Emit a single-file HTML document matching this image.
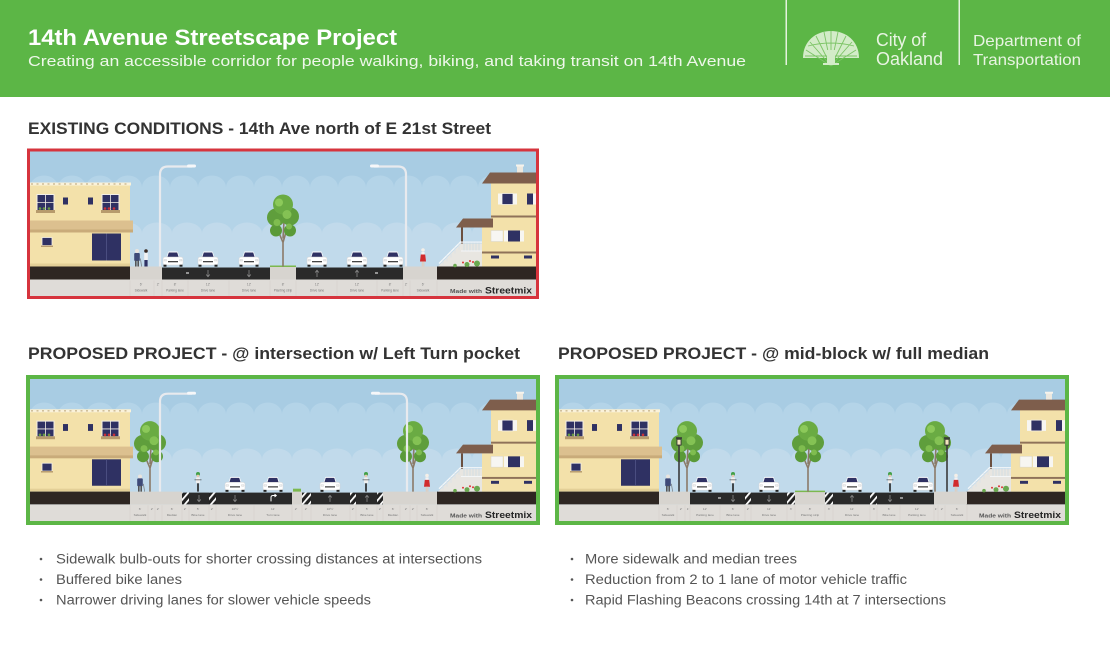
<!DOCTYPE html>
<html><head><meta charset="utf-8">
<style>
html,body{margin:0;padding:0;background:#fff;}
body{width:1110px;height:651px;overflow:hidden;}
svg text{font-family:"Liberation Sans",sans-serif;}
.lb{font-size:3.2px;fill:#7a7a7a;text-anchor:middle;}
</style></head>
<body>
<svg width="1110" height="651" viewBox="0 0 1110 651" xmlns="http://www.w3.org/2000/svg">
<defs>
<pattern id="hp" width="5" height="5" patternUnits="userSpaceOnUse" patternTransform="rotate(40)">
<rect width="5" height="5" fill="#222"/><rect width="1.8" height="5" fill="#fff"/>
</pattern>
<g id="sky">
<rect width="506" height="145" fill="#a8cce3"/>
<path d="M0,36 a14,12 0 0 1 28,0 a14,12 0 0 1 28,0 a14,12 0 0 1 28,0 a14,12 0 0 1 28,0 a14,12 0 0 1 28,0 a14,12 0 0 1 28,0 a14,12 0 0 1 28,0 a14,12 0 0 1 28,0 a14,12 0 0 1 28,0 a14,12 0 0 1 28,0 a14,12 0 0 1 28,0 a14,12 0 0 1 28,0 a14,12 0 0 1 28,0 a14,12 0 0 1 28,0 a14,12 0 0 1 28,0 a14,12 0 0 1 28,0 a14,12 0 0 1 28,0 a14,12 0 0 1 28,0 L506,36 V145 H0Z" fill="#b4d4e8"/>
<path d="M-8,82 a15,11 0 0 1 30,0 a15,11 0 0 1 30,0 a15,11 0 0 1 30,0 a15,11 0 0 1 30,0 a15,11 0 0 1 30,0 a15,11 0 0 1 30,0 a15,11 0 0 1 30,0 a15,11 0 0 1 30,0 a15,11 0 0 1 30,0 a15,11 0 0 1 30,0 a15,11 0 0 1 30,0 a15,11 0 0 1 30,0 a15,11 0 0 1 30,0 a15,11 0 0 1 30,0 a15,11 0 0 1 30,0 a15,11 0 0 1 30,0 a15,11 0 0 1 30,0 a15,11 0 0 1 30,0 V145 H-8Z" fill="#c1daeb"/>
<rect x="0" y="128" width="506" height="17" fill="#dfdcd8"/>
</g>
<g id="lbld">
<rect x="0" y="31" width="100" height="84" fill="#f3e1aa"/>
<rect x="0" y="31" width="101" height="3" fill="#faf2da"/>
<line x1="1" y1="32.5" x2="100" y2="32.5" stroke="#b9a374" stroke-width="1" stroke-dasharray="2 3.5"/>
<rect x="7" y="43" width="17" height="16" fill="#2f3163" stroke="#f4f0e6" stroke-width="1"/>
<path d="M15.5 43v16M7 51h17" stroke="#f4f0e6" stroke-width="0.8"/>
<rect x="6" y="58.5" width="19" height="3" fill="#b79b6c"/>
<circle cx="10" cy="57" r="1.3" fill="#6a9c44"/><circle cx="14" cy="57" r="1.3" fill="#6a9c44"/><circle cx="19" cy="57" r="1.3" fill="#6a9c44"/>
<rect x="72" y="43" width="17" height="16" fill="#2f3163" stroke="#f4f0e6" stroke-width="1"/>
<path d="M80.5 43v16M72 51h17" stroke="#f4f0e6" stroke-width="0.8"/>
<rect x="71" y="58.5" width="19" height="3" fill="#b79b6c"/>
<circle cx="75" cy="57" r="1.3" fill="#c8313a"/><circle cx="79" cy="57" r="1.3" fill="#c8313a"/><circle cx="84" cy="57" r="1.3" fill="#c8313a"/>
<rect x="33" y="46" width="5" height="7" fill="#2f3163"/>
<rect x="58" y="46" width="5" height="7" fill="#2f3163"/>
<rect x="0" y="69" width="103" height="10" fill="#dcc08f"/>
<rect x="0" y="78" width="103" height="3" fill="#c9ab7a"/>
<rect x="12" y="86" width="10" height="8" fill="#2f3163" stroke="#f4f0e6" stroke-width="0.8"/>
<rect x="11" y="94" width="12" height="1.5" fill="#b79b6c"/>
<rect x="62" y="82" width="29" height="27" fill="#2f3163"/>
<line x1="76.5" y1="82" x2="76.5" y2="109" stroke="#4a4d80" stroke-width="1"/>
<rect x="0" y="112" width="100" height="3" fill="#e3cf97"/>
<rect x="0" y="115" width="100" height="13" fill="#2e2622"/>
</g>
<g id="rbld">
<rect x="407" y="115" width="99" height="13" fill="#2e2622"/>
<rect x="452" y="76" width="54" height="39" fill="#f3e1aa"/>
<rect x="461" y="30" width="45" height="46" fill="#f3e1aa"/>
<polygon points="452,32 460,21 506,21 506,32" fill="#7e5e4c"/>
<rect x="487" y="14" width="6" height="7" fill="#ece8df"/>
<rect x="486" y="13" width="8" height="2" fill="#f6f3ec"/>
<rect x="472" y="42" width="11" height="11" fill="#2f3163" stroke="#f4f0e6" stroke-width="0.8"/>
<rect x="468" y="42" width="4" height="11" fill="#f7f6f2"/><rect x="483" y="42" width="4" height="11" fill="#f7f6f2"/>
<rect x="497" y="42" width="6" height="11" fill="#2f3163"/><rect x="503" y="42" width="3" height="11" fill="#f7f6f2"/>
<rect x="461" y="64" width="45" height="2" fill="#8f7259"/>
<polygon points="426,76 433,67 463,67 463,76" fill="#7e5e4c"/>
<rect x="431" y="76" width="2" height="16" fill="#6b4f3f"/>
<rect x="461" y="79" width="12" height="11" fill="#f7f6f2" stroke="#d8d4c8" stroke-width="0.5"/>
<rect x="478" y="79" width="12" height="11" fill="#2f3163"/>
<rect x="474" y="79" width="4" height="11" fill="#f7f6f2"/><rect x="490" y="79" width="4" height="11" fill="#f7f6f2"/>
<rect x="452" y="100" width="54" height="2" fill="#8f7259"/>
<rect x="461" y="104" width="8" height="3" fill="#2f3163"/><rect x="494" y="104" width="8" height="3" fill="#2f3163"/>
<polygon points="408,115 431,92 452,92 452,115" fill="#e8e6e1"/>
<line x1="409" y1="112" x2="431" y2="90" stroke="#f4f7f9" stroke-width="1.3"/>
<path d="M413 108v5M417 104v6M421 100v6M425 96v6M429 92v6" stroke="#d6e2ea" stroke-width="0.7"/>
<rect x="431" y="90" width="21" height="1.2" fill="#f4f7f9"/>
<path d="M434 91v8M437 91v8M440 91v8M443 91v8M446 91v8M449 91v8" stroke="#c9d9e4" stroke-width="0.7"/>
<rect x="431" y="99" width="21" height="1" fill="#f4f7f9"/>
<circle cx="437" cy="113" r="2.5" fill="#6aa84f"/><circle cx="447" cy="112" r="3" fill="#6aa84f"/><circle cx="425" cy="114" r="1.8" fill="#6aa84f"/>
<circle cx="440" cy="109.5" r="1" fill="#d33"/><circle cx="443" cy="110.5" r="1" fill="#d33"/><circle cx="433" cy="111" r="1" fill="#d33"/>
</g>
<g id="car">
<path d="M-6.5,-9 L-4.8,-14.5 Q-4.5,-15 -4,-15 L4,-15 Q4.5,-15 4.8,-14.5 L6.5,-9 Z" fill="#fff"/>
<polygon points="-5.6,-9.5 -4.2,-14 4.2,-14 5.6,-9.5" fill="#2f3163"/>
<rect x="-10" y="-9.5" width="20" height="8" rx="2" fill="#fff" stroke="#d4d4d4" stroke-width="0.5"/>
<rect x="-5" y="-5.5" width="10" height="1.3" fill="#444"/>
<rect x="-9" y="-7" width="2.5" height="1.5" fill="#eee" stroke="#bbb" stroke-width=".3"/>
<rect x="6.5" y="-7" width="2.5" height="1.5" fill="#eee" stroke="#bbb" stroke-width=".3"/>
<rect x="-9.5" y="-1.8" width="3" height="2" fill="#222"/><rect x="6.5" y="-1.8" width="3" height="2" fill="#222"/>
</g>
<g id="tree">
<path d="M0,0 L0,-24 M0,-24 L-5,-36 M0,-24 L4,-38 M0,-28 L1,-46" stroke="#8b7a68" stroke-width="1.6" fill="none"/>
<circle cx="-7" cy="-36" r="6" fill="#5a9a38"/>
<circle cx="7" cy="-36" r="6" fill="#5a9a38"/>
<circle cx="-7" cy="-49" r="9" fill="#5f9e3c"/>
<circle cx="7" cy="-50" r="9" fill="#5f9e3c"/>
<circle cx="0" cy="-62" r="10" fill="#6aab43"/>
<circle cx="-4" cy="-64" r="4" fill="#8cc95a"/>
<circle cx="4" cy="-52" r="4.5" fill="#84c254"/>
<circle cx="-6" cy="-44" r="3.5" fill="#7fbd4f"/>
<circle cx="6" cy="-40" r="3" fill="#7fbd4f"/>
</g>
<g id="lamp">
<path d="M0,0 V-92 Q0,-100 8,-100 H32" stroke="#e8eaee" stroke-width="2.2" fill="none"/>
<rect x="27" y="-102" width="9" height="3" rx="1.5" fill="#f6f7f9"/>
</g>
<g id="olamp">
<rect x="-0.8" y="-48" width="1.6" height="48" fill="#3b3b3b"/>
<rect x="-2.5" y="-54" width="5" height="7" fill="#333"/>
<rect x="-1.6" y="-53" width="3.2" height="5" fill="#f3e6bd"/>
<rect x="-3" y="-55.5" width="6" height="1.5" fill="#333"/>
</g>
<g id="ped1">
<circle cx="0" cy="-15.5" r="2" fill="#e9e4de"/>
<rect x="-2.8" y="-13.5" width="5.6" height="8" rx="1" fill="#3e4a78"/>
<rect x="-2" y="-6" width="1.6" height="6" fill="#555"/><rect x="0.4" y="-6" width="1.6" height="6" fill="#555"/>
<line x1="3.5" y1="-8" x2="4.5" y2="0" stroke="#666" stroke-width="0.6"/>
</g>
<g id="ped2">
<circle cx="0" cy="-16.5" r="1.8" fill="#f5efe8"/>
<rect x="-1.6" y="-14.5" width="3.2" height="3" fill="#f3f3f3"/>
<polygon points="-2.2,-12 2.2,-12 3,-5 -3,-5" fill="#d12b2e"/>
<rect x="-1.2" y="-5" width="0.9" height="5" fill="#e8c9b0"/><rect x="0.4" y="-5" width="0.9" height="5" fill="#e8c9b0"/>
</g>
<g id="bike">
<circle cx="0" cy="-18" r="2" fill="#43a047"/>
<circle cx="0" cy="-16" r="1.3" fill="#e8c9b0"/>
<rect x="-2" y="-14.5" width="4" height="6" rx="1" fill="#f0f0f0"/>
<line x1="-3.5" y1="-12" x2="3.5" y2="-12" stroke="#333" stroke-width="0.6"/>
<rect x="-0.8" y="-8.5" width="1.6" height="8.5" fill="#222"/>
</g>
<g id="ad"><path d="M0,-3.5 V3 M-1.8,1 L0,3.2 L1.8,1" stroke="#8a8a8a" stroke-width="0.8" fill="none"/></g>
<g id="au"><path d="M0,3.5 V-3 M-1.8,-1 L0,-3.2 L1.8,-1" stroke="#8a8a8a" stroke-width="0.8" fill="none"/></g>
<g id="mark">
<text x="420" y="141.5" font-size="5.8" font-weight="bold" fill="#555" textLength="32" lengthAdjust="spacingAndGlyphs">Made with</text>
<text x="455" y="142" font-size="9.5" font-weight="bold" fill="#262626" textLength="47" lengthAdjust="spacingAndGlyphs">Streetmix</text>
</g>
</defs>

<!-- Header -->
<rect x="0" y="0" width="1110" height="97" fill="#5cb646"/>
<text x="28" y="45" font-size="22" font-weight="bold" fill="#fff" textLength="369" lengthAdjust="spacingAndGlyphs">14th Avenue Streetscape Project</text>
<text x="28" y="66" font-size="15" fill="#eef7ea" textLength="718" lengthAdjust="spacingAndGlyphs">Creating an accessible corridor for people walking, biking, and taking transit on 14th Avenue</text>
<rect x="785.5" y="0" width="1.5" height="65" fill="#e4f2dd"/>
<rect x="958.5" y="0" width="1.5" height="65" fill="#e4f2dd"/>
<path d="M803,58 C803,41 816,31 831,31 C846,31 859,41 859,58 Z" fill="#d3ecc8"/>
<path d="M831,66 L806,50 M831,66 L810,42 M831,66 L816,36 M831,66 L824,32 M831,66 L831,31 M831,66 L838,32 M831,66 L846,36 M831,66 L852,42 M831,66 L856,50 M805,56 H857 M808,46 Q831,40 854,46" stroke="#7cc466" stroke-width="0.9" fill="none"/>
<rect x="827" y="50" width="8" height="15" fill="#d3ecc8"/>
<rect x="823" y="63" width="16" height="2" fill="#d3ecc8"/>
<text x="876" y="46" font-size="18" fill="#e8f4e2" textLength="50" lengthAdjust="spacingAndGlyphs">City of</text>
<text x="876" y="65" font-size="18" fill="#e8f4e2" textLength="67" lengthAdjust="spacingAndGlyphs">Oakland</text>
<text x="973" y="46" font-size="16" fill="#e8f4e2" textLength="108" lengthAdjust="spacingAndGlyphs">Department of</text>
<text x="973" y="65" font-size="16" fill="#e8f4e2" textLength="108" lengthAdjust="spacingAndGlyphs">Transportation</text>

<!-- Headings -->
<text x="28" y="134" font-size="16.5" font-weight="bold" fill="#333" textLength="463" lengthAdjust="spacingAndGlyphs">EXISTING CONDITIONS - 14th Ave north of E 21st Street</text>
<text x="28" y="359" font-size="16.5" font-weight="bold" fill="#333" textLength="492" lengthAdjust="spacingAndGlyphs">PROPOSED PROJECT - @ intersection w/ Left Turn pocket</text>
<text x="558" y="359" font-size="16.5" font-weight="bold" fill="#333" textLength="431" lengthAdjust="spacingAndGlyphs">PROPOSED PROJECT - @ mid-block w/ full median</text>

<!-- Existing -->
<svg x="30" y="151.5" width="506" height="145" viewBox="0 0 506 145" preserveAspectRatio="none">
<use href="#sky"/>
<use href="#lbld"/>
<use href="#rbld"/>
<rect x="100" y="115" width="32" height="13" fill="#d7d4cf"/>
<rect x="132" y="116" width="108" height="12" fill="#2a2a2a"/>
<rect x="240" y="115" width="26" height="13" fill="#d7d4cf"/>
<rect x="240" y="114" width="26" height="1.5" fill="#7cb84e"/>
<rect x="266" y="116" width="107" height="12" fill="#2a2a2a"/>
<rect x="373" y="115" width="34" height="13" fill="#d7d4cf"/>
<rect x="156" y="121" width="3" height="1" fill="#fff"/><rect x="345" y="121" width="3" height="1" fill="#fff"/>
<use href="#ad" x="178" y="122"/><use href="#ad" x="219" y="122"/>
<use href="#au" x="287" y="122"/><use href="#au" x="327" y="122"/>
<use href="#tree" x="253" y="115"/>
<use href="#lamp" x="130" y="115"/>
<use href="#lamp" transform="translate(376,115) scale(-1,1)"/>
<use href="#car" x="143" y="115"/><use href="#car" x="178" y="115"/><use href="#car" x="219" y="115"/>
<use href="#car" x="287" y="115"/><use href="#car" x="327" y="115"/><use href="#car" x="363" y="115"/>
<use href="#ped1" x="107" y="115"/>
<g transform="translate(116,115)"><circle cx="0" cy="-15.5" r="1.8" fill="#3a2a22"/><rect x="-1.8" y="-13.5" width="3.6" height="7" fill="#f2f2f2"/><rect x="-1.6" y="-6.5" width="3.2" height="6.5" fill="#2f3163"/></g>
<use href="#ped2" x="393" y="115"/>
<path d="M100 129v16M124 129v16M132 129v16M158 129v16M199 129v16M240 129v16M266 129v16M307 129v16M347 129v16M373 129v16M380 129v16M407 129v16" stroke="#cdc9c4" stroke-width="0.4"/>
<text class="lb" x="111" y="134">6'</text><text class="lb" x="111" y="140">Sidewalk</text>
<text class="lb" x="128" y="134">2'</text>
<text class="lb" x="145" y="134">8'</text><text class="lb" x="145" y="140">Parking lane</text>
<text class="lb" x="178" y="134">12'</text><text class="lb" x="178" y="140">Drive lane</text>
<text class="lb" x="219" y="134">12'</text><text class="lb" x="219" y="140">Drive lane</text>
<text class="lb" x="253" y="134">8'</text><text class="lb" x="253" y="140">Planting strip</text>
<text class="lb" x="287" y="134">12'</text><text class="lb" x="287" y="140">Drive lane</text>
<text class="lb" x="327" y="134">12'</text><text class="lb" x="327" y="140">Drive lane</text>
<text class="lb" x="360" y="134">8'</text><text class="lb" x="360" y="140">Parking lane</text>
<text class="lb" x="376" y="134">2'</text>
<text class="lb" x="393" y="134">6'</text><text class="lb" x="393" y="140">Sidewalk</text>
<use href="#mark"/>
</svg>
<rect x="28.5" y="150" width="509" height="147.5" fill="none" stroke="#d6343d" stroke-width="3"/>

<!-- Proposed left -->
<svg x="30" y="379" width="506" height="142" viewBox="0 0 506 145" preserveAspectRatio="none">
<use href="#sky"/>
<use href="#lbld"/>
<use href="#rbld"/>
<rect x="100" y="115" width="52" height="13" fill="#d7d4cf"/>
<rect x="152" y="116" width="7" height="12" fill="url(#hp)"/>
<rect x="159" y="116" width="20" height="12" fill="#2a2a2a"/>
<rect x="179" y="116" width="7" height="12" fill="url(#hp)"/>
<rect x="186" y="116" width="76" height="12" fill="#2a2a2a"/>
<rect x="262" y="115" width="10" height="13" fill="#d7d4cf"/>
<rect x="263" y="112" width="8" height="3" fill="#7cb84e"/>
<rect x="272" y="116" width="9" height="12" fill="url(#hp)"/>
<rect x="281" y="116" width="39" height="12" fill="#2a2a2a"/>
<rect x="320" y="116" width="6" height="12" fill="url(#hp)"/>
<rect x="326" y="116" width="21" height="12" fill="#2a2a2a"/>
<rect x="347" y="116" width="6" height="12" fill="url(#hp)"/>
<rect x="353" y="115" width="54" height="13" fill="#d7d4cf"/>
<use href="#ad" x="169" y="122"/><use href="#ad" x="205" y="122"/>
<path d="M241,125 V121 Q241,119 243,119 H246 M244.5,117.5 L246.3,119 L244.5,120.5" stroke="#fff" stroke-width="1" fill="none"/>
<use href="#au" x="300" y="122"/><use href="#au" x="337" y="122"/>
<use href="#tree" x="120" y="115"/>
<use href="#tree" x="383" y="115"/>
<use href="#lamp" x="130" y="115"/>
<use href="#lamp" transform="translate(377,115) scale(-1,1)"/>
<use href="#car" x="205" y="115"/><use href="#car" x="243" y="115"/><use href="#car" x="300" y="115"/>
<use href="#bike" x="168" y="115"/><use href="#bike" x="336" y="115"/>
<use href="#ped1" x="110" y="115"/>
<use href="#ped2" x="397" y="115"/>
<path d="M100 129v16M118 129v16M125 129v16M132 129v16M152 129v16M159 129v16M179 129v16M186 129v16M224 129v16M262 129v16M272 129v16M281 129v16M320 129v16M326 129v16M347 129v16M353 129v16M370 129v16M380 129v16M387 129v16M407 129v16" stroke="#cdc9c4" stroke-width="0.4"/>
<text class="lb" x="110" y="134">6'</text><text class="lb" x="110" y="140">Sidewalk</text>
<text class="lb" x="122" y="134">2'</text><text class="lb" x="128" y="134">2'</text>
<text class="lb" x="142" y="134">6'</text><text class="lb" x="142" y="140">Median</text>
<text class="lb" x="155" y="134">2'</text>
<text class="lb" x="168" y="134">5'</text><text class="lb" x="168" y="140">Bike lane</text>
<text class="lb" x="182" y="134">2'</text>
<text class="lb" x="205" y="134">10½'</text><text class="lb" x="205" y="140">Drive lane</text>
<text class="lb" x="243" y="134">11'</text><text class="lb" x="243" y="140">Turn lane</text>
<text class="lb" x="266" y="134">2'</text><text class="lb" x="276" y="134">2'</text>
<text class="lb" x="300" y="134">10½'</text><text class="lb" x="300" y="140">Drive lane</text>
<text class="lb" x="323" y="134">2'</text>
<text class="lb" x="337" y="134">5'</text><text class="lb" x="337" y="140">Bike lane</text>
<text class="lb" x="350" y="134">2'</text>
<text class="lb" x="363" y="134">6'</text><text class="lb" x="363" y="140">Median</text>
<text class="lb" x="376" y="134">2'</text><text class="lb" x="383" y="134">2'</text>
<text class="lb" x="397" y="134">6'</text><text class="lb" x="397" y="140">Sidewalk</text>
<use href="#mark"/>
</svg>
<rect x="28" y="377" width="510" height="146" fill="none" stroke="#5cb646" stroke-width="4"/>

<!-- Proposed right -->
<svg x="559" y="379" width="506" height="142" viewBox="0 0 506 145" preserveAspectRatio="none">
<use href="#sky"/>
<use href="#lbld"/>
<use href="#rbld"/>
<rect x="100" y="115" width="31" height="13" fill="#d7d4cf"/>
<rect x="131" y="116" width="55" height="12" fill="#2a2a2a"/>
<rect x="186" y="116" width="6" height="12" fill="url(#hp)"/>
<rect x="192" y="116" width="36" height="12" fill="#2a2a2a"/>
<rect x="228" y="116" width="8" height="12" fill="url(#hp)"/>
<rect x="236" y="115" width="30" height="13" fill="#d7d4cf"/>
<rect x="236" y="114" width="30" height="1.5" fill="#7cb84e"/>
<rect x="266" y="116" width="8" height="12" fill="url(#hp)"/>
<rect x="274" y="116" width="37" height="12" fill="#2a2a2a"/>
<rect x="311" y="116" width="7" height="12" fill="url(#hp)"/>
<rect x="318" y="116" width="57" height="12" fill="#2a2a2a"/>
<rect x="375" y="115" width="33" height="13" fill="#d7d4cf"/>
<rect x="159" y="121" width="3" height="1" fill="#fff"/><rect x="341" y="121" width="3" height="1" fill="#fff"/>
<use href="#ad" x="174" y="122"/><use href="#ad" x="210" y="122"/>
<use href="#au" x="293" y="122"/><use href="#ad" x="331" y="122"/>
<use href="#tree" x="128" y="115"/>
<use href="#tree" x="249" y="115"/>
<use href="#tree" x="376" y="115"/>
<use href="#olamp" x="120" y="115"/>
<use href="#olamp" x="388" y="115"/>
<use href="#car" x="143" y="115"/><use href="#car" x="210" y="115"/><use href="#car" x="293" y="115"/><use href="#car" x="364" y="115"/>
<use href="#bike" x="174" y="115"/><use href="#bike" x="331" y="115"/>
<use href="#ped1" x="109" y="115"/>
<use href="#ped2" x="397" y="115"/>
<path d="M100 129v16M118 129v16M126 129v16M131 129v16M161 129v16M186 129v16M192 129v16M228 129v16M236 129v16M266 129v16M274 129v16M311 129v16M318 129v16M341 129v16M375 129v16M379 129v16M386 129v16M408 129v16" stroke="#cdc9c4" stroke-width="0.4"/>
<text class="lb" x="109" y="134">6'</text><text class="lb" x="109" y="140">Sidewalk</text>
<text class="lb" x="122" y="134">2'</text><text class="lb" x="129" y="134">1'</text>
<text class="lb" x="146" y="134">12'</text><text class="lb" x="146" y="140">Parking lane</text>
<text class="lb" x="174" y="134">6'</text><text class="lb" x="174" y="140">Bike lane</text>
<text class="lb" x="189" y="134">2'</text>
<text class="lb" x="210" y="134">11'</text><text class="lb" x="210" y="140">Drive lane</text>
<text class="lb" x="232" y="134">3'</text>
<text class="lb" x="251" y="134">8'</text><text class="lb" x="251" y="140">Planting strip</text>
<text class="lb" x="270" y="134">3'</text>
<text class="lb" x="293" y="134">11'</text><text class="lb" x="293" y="140">Drive lane</text>
<text class="lb" x="315" y="134">3'</text>
<text class="lb" x="330" y="134">6'</text><text class="lb" x="330" y="140">Bike lane</text>
<text class="lb" x="358" y="134">12'</text><text class="lb" x="358" y="140">Parking lane</text>
<text class="lb" x="377" y="134">1'</text><text class="lb" x="383" y="134">2'</text>
<text class="lb" x="398" y="134">6'</text><text class="lb" x="398" y="140">Sidewalk</text>
<use href="#mark"/>
</svg>
<rect x="557" y="377" width="510" height="146" fill="none" stroke="#5cb646" stroke-width="4"/>

<!-- Bullets -->
<g fill="#555" font-size="13.5">
<circle cx="41" cy="559" r="1.3"/><circle cx="41" cy="579.5" r="1.3"/><circle cx="41" cy="600" r="1.3"/>
<text x="56" y="563.5" textLength="426" lengthAdjust="spacingAndGlyphs">Sidewalk bulb-outs for shorter crossing distances at intersections</text>
<text x="56" y="584" textLength="126" lengthAdjust="spacingAndGlyphs">Buffered bike lanes</text>
<text x="56" y="604.5" textLength="315" lengthAdjust="spacingAndGlyphs">Narrower driving lanes for slower vehicle speeds</text>
<circle cx="572" cy="559" r="1.3"/><circle cx="572" cy="579.5" r="1.3"/><circle cx="572" cy="600" r="1.3"/>
<text x="585" y="563.5" textLength="212" lengthAdjust="spacingAndGlyphs">More sidewalk and median trees</text>
<text x="585" y="584" textLength="322" lengthAdjust="spacingAndGlyphs">Reduction from 2 to 1 lane of motor vehicle traffic</text>
<text x="585" y="604.5" textLength="361" lengthAdjust="spacingAndGlyphs">Rapid Flashing Beacons crossing 14th at 7 intersections</text>
</g>
</svg>
</body></html>
